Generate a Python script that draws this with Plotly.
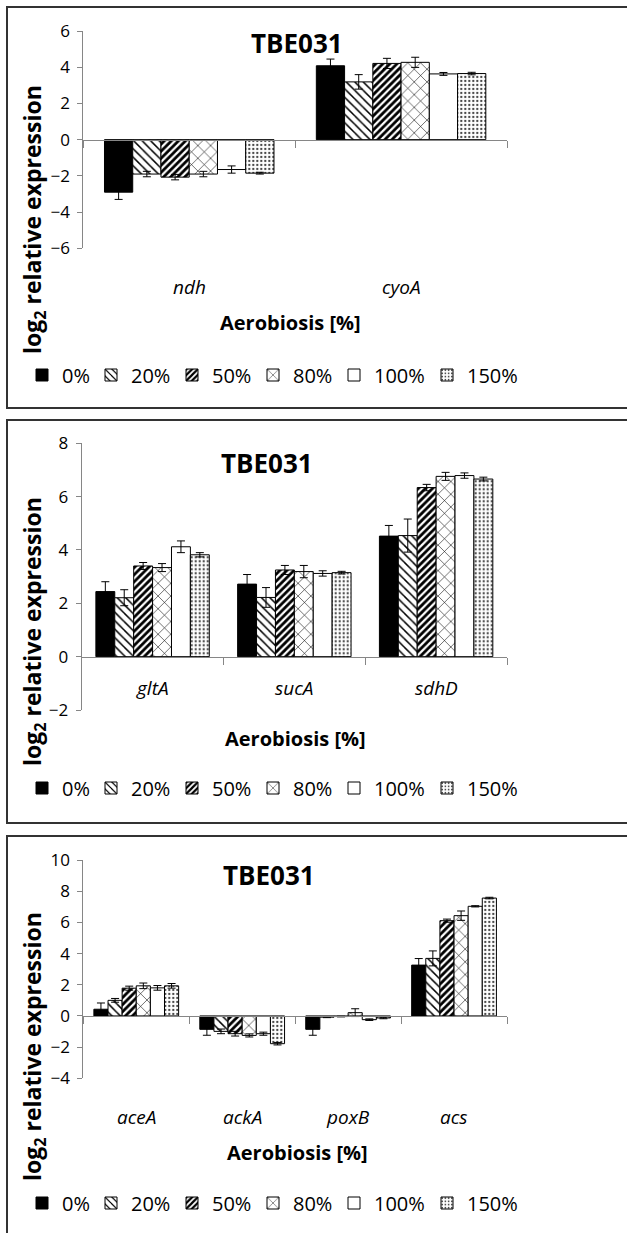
import plotly.graph_objects as go

# ---------------- data ----------------
series = ["0%", "20%", "50%", "80%", "100%", "150%"]

genes1 = ["ndh", "cyoA"]
ndh_vals = [-2.90, -1.90, -2.07, -1.90, -1.65, -1.85]
ndh_err = [0.40, 0.15, 0.15, 0.15, 0.20, 0.05]
cyoA_vals = [4.08, 3.19, 4.21, 4.27, 3.63, 3.65]
cyoA_err = [0.37, 0.40, 0.28, 0.28, 0.08, 0.07]

genes2 = ["gltA", "sucA", "sdhD"]
gltA_vals = [2.44, 2.21, 3.40, 3.34, 4.12, 3.82]
gltA_err = [0.37, 0.30, 0.13, 0.15, 0.22, 0.08]
sucA_vals = [2.72, 2.22, 3.25, 3.19, 3.12, 3.15]
sucA_err = [0.36, 0.37, 0.17, 0.23, 0.10, 0.05]
sdhD_vals = [4.52, 4.54, 6.34, 6.76, 6.79, 6.66]
sdhD_err = [0.40, 0.62, 0.12, 0.15, 0.10, 0.07]

genes3 = ["aceA", "ackA", "poxB", "acs"]
aceA_vals = [0.43, 1.00, 1.78, 1.93, 1.80, 1.93]
aceA_err = [0.40, 0.12, 0.13, 0.18, 0.15, 0.15]
ackA_vals = [-0.86, -0.99, -1.14, -1.25, -1.14, -1.78]
ackA_err = [0.38, 0.15, 0.15, 0.10, 0.10, 0.08]
poxB_vals = [-0.86, -0.08, -0.04, 0.21, -0.24, -0.13]
poxB_err = [0.38, 0.03, 0.02, 0.25, 0.05, 0.05]
acs_vals = [3.26, 3.69, 6.11, 6.43, 7.03, 7.56]
acs_err = [0.42, 0.48, 0.10, 0.30, 0.04, 0.05]

title_text = "TBE031"
x_title = "Aerobiosis [%]"
y_title = "log<sub>2</sub> relative expression"

# ---------------- styling ----------------
W, H = 627, 1233
FONT = "Open Sans"
GRAY = "#868686"


def px(x):
    return x / W


def py(y):
    return 1 - y / H


patterns = [
    dict(shape="", fgcolor="black", bgcolor="black"),
    dict(shape="\\", fgcolor="black", bgcolor="white", size=6, solidity=0.25),
    dict(shape="/", fgcolor="black", bgcolor="white", size=5, solidity=0.55),
    dict(shape="x", fgcolor="black", bgcolor="white", size=9, solidity=0.12),
    dict(shape="", fgcolor="white", bgcolor="white"),
    dict(shape=".", fgcolor="#444444", bgcolor="white", size=4, solidity=0.25),
]
colors = ["black", "white", "white", "white", "white", "white"]
legend_entry_widths = [24, 36, 36, 36, 48, 55]

panels = [
    dict(genes=genes1, vals=[ndh_vals, cyoA_vals], errs=[ndh_err, cyoA_err],
         x0=83.3, x1=507, ytop=31, ybot=248.3, rng=[-6, 6],
         title=(297, 43), cat_y=287, xt=(290, 322), yt=(33, 220), leg=375,
         box=(7, 408)),
    dict(genes=genes2, vals=[gltA_vals, sucA_vals, sdhD_vals],
         errs=[gltA_err, sucA_err, sdhD_err],
         x0=81.7, x1=507, ytop=443.3, ybot=710, rng=[-2, 8],
         title=(267, 463), cat_y=688, xt=(295, 738), yt=(33, 632), leg=788,
         box=(420, 823)),
    dict(genes=genes3, vals=[aceA_vals, ackA_vals, poxB_vals, acs_vals],
         errs=[aceA_err, ackA_err, poxB_err, acs_err],
         x0=83.3, x1=507, ytop=860, ybot=1078.3, rng=[-4, 10],
         title=(269, 875), cat_y=1117, xt=(297, 1152), yt=(33, 1047), leg=1203,
         box=(836, 1260)),
]

fig = go.Figure()
layout = dict(
    template="none",
    width=W, height=H, margin=dict(l=0, r=0, t=0, b=0, pad=0, autoexpand=False),
    paper_bgcolor="white", plot_bgcolor="rgba(0,0,0,0)",
    barmode="group", bargap=0.2, bargroupgap=0,
    font=dict(family=FONT, color="black"),
    showlegend=True,
)
annotations = []
shapes = []


def ann(text, x, y, size, xref="paper", angle=0):
    return dict(text=text, x=x, y=y, xref=xref, yref="paper", showarrow=False,
                xanchor="center", yanchor="middle", textangle=angle,
                font=dict(family=FONT, size=size, color="black"))


for p, pn in enumerate(panels, start=1):
    xa = "x" if p == 1 else f"x{p}"
    ya = "y" if p == 1 else f"y{p}"
    lg = "legend" if p == 1 else f"legend{p}"
    for i, s in enumerate(series):
        fig.add_trace(go.Bar(
            x=pn["genes"],
            y=[v[i] for v in pn["vals"]],
            error_y=dict(type="data", array=[e[i] for e in pn["errs"]],
                         color="black", thickness=1, width=4),
            name=s,
            marker=dict(color=colors[i], line=dict(color="black", width=1),
                        pattern=patterns[i]),
            xaxis=xa, yaxis=ya, legend=lg,
            legendwidth=legend_entry_widths[i],
        ))
    ymin, ymax = pn["rng"]
    y0px = pn["ytop"] + (ymax - 0) / (ymax - ymin) * (pn["ybot"] - pn["ytop"])
    layout[f"xaxis{p}"] = dict(
        domain=[px(pn["x0"]), px(pn["x1"])], anchor="free", position=py(y0px),
        type="category", showline=True, linecolor=GRAY, linewidth=1,
        ticks="outside", tickson="boundaries", ticklen=7, tickcolor=GRAY,
        showticklabels=False, showgrid=False, zeroline=False, automargin=False,
    )
    layout[f"yaxis{p}"] = dict(
        domain=[py(pn["ybot"]), py(pn["ytop"])], anchor=xa, range=pn["rng"],
        dtick=2, showline=True, linecolor=GRAY, linewidth=1,
        ticks="outside", ticklen=5, tickcolor=GRAY, showgrid=False, zeroline=False,
        tickfont=dict(family=FONT, size=17, color="black"), ticklabelstandoff=4,
        automargin=False,
    )
    layout[lg] = dict(
        orientation="h", x=px(22), xanchor="left", y=py(pn["leg"]),
        yanchor="middle", font=dict(family=FONT, size=20, color="black"),
        bgcolor="rgba(0,0,0,0)", itemclick=False, itemdoubleclick=False,
        tracegroupgap=0, itemwidth=30,
    )
    annotations.append(ann(f"<b>{title_text}</b>", px(pn["title"][0]),
                           py(pn["title"][1]), 26))
    annotations.append(ann(f"<b>{x_title}</b>", px(pn["xt"][0]),
                           py(pn["xt"][1]), 20))
    annotations.append(ann(f"<b>{y_title}</b>", px(pn["yt"][0]),
                           py(pn["yt"][1]), 23, angle=-90))
    for g in pn["genes"]:
        annotations.append(ann(f"<i>{g}</i>", g, py(pn["cat_y"]), 19, xref=xa))
    shapes.append(dict(
        type="rect", xref="paper", yref="paper",
        x0=px(7), x1=px(640), y0=py(pn["box"][1]), y1=py(pn["box"][0]),
        line=dict(color="#333333", width=2), fillcolor="rgba(0,0,0,0)"))

layout["annotations"] = annotations
layout["shapes"] = shapes
fig.update_layout(**layout)
fig.write_html("out.html",
               config={"displayModeBar": False},
               post_script="document.body.style.margin='0px';"
                           "document.body.style.overflow='hidden';")
